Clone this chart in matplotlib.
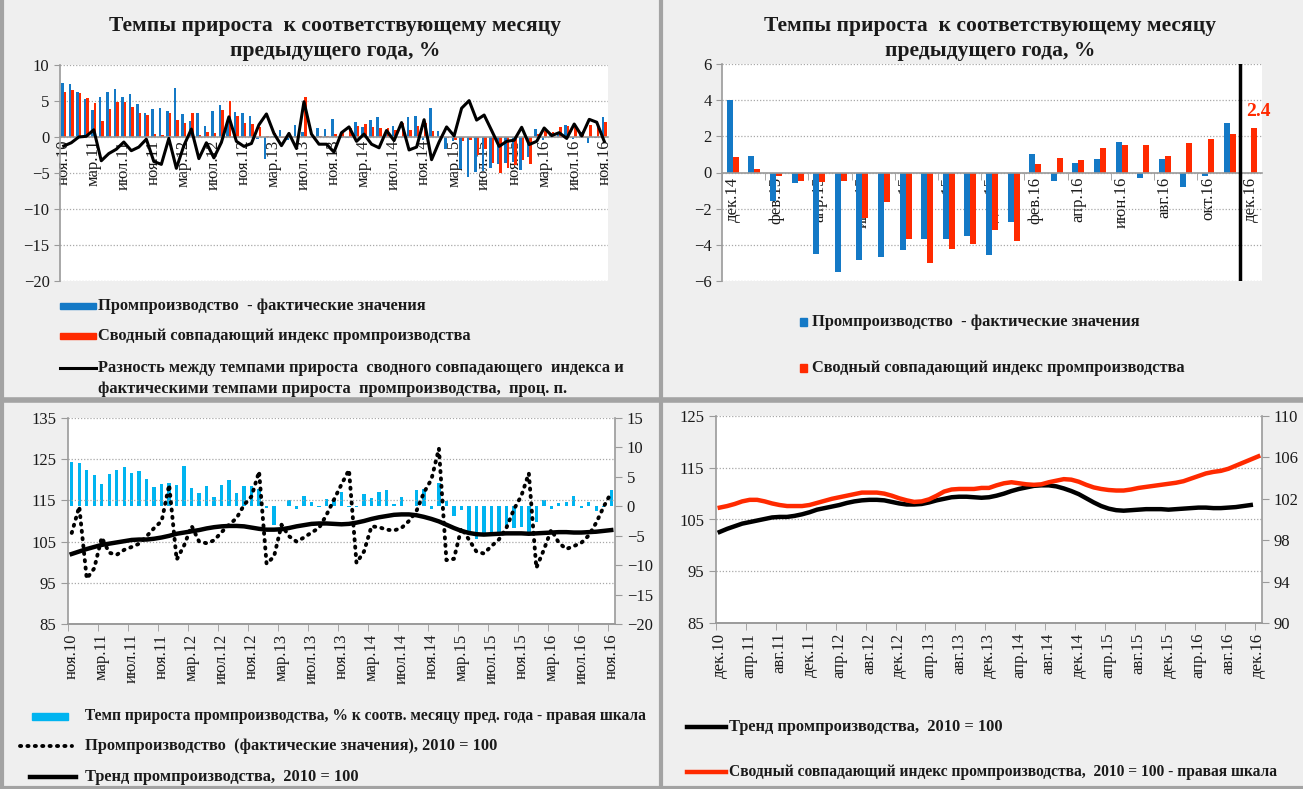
import matplotlib
matplotlib.use('Agg')
import matplotlib.pyplot as plt
import numpy as np
from matplotlib.lines import Line2D
from matplotlib.patches import Rectangle

plt.rcParams['font.family'] = ['Liberation Serif', 'DejaVu Serif']

# ---- data (monthly, ноя.10 .. ноя.16 / дек.16) ----
# IP growth, % y/y (actual)  ноя.10 .. ноя.16
ip_yoy = [7.45, 7.3, 6.2, 5.3, 3.75, 5.5, 6.2, 6.6, 5.6, 6.0, 4.65, 3.35, 3.85, 4.0, 3.55, 6.8,
          3.15, 2.2, 3.4, 1.5, 3.6, 4.5, 2.2, 3.5, 3.4, 2.9, -0.3, -3.1, 0.1, 1.0, -0.4, 1.7,
          0.7, -0.1, 1.2, 1.1, 2.5, -0.1, -0.2, 2.1, 1.4, 2.4, 2.8, 0.4, 1.5, 0.0, 2.8, 2.9,
          -0.4, 4.0, 0.9, -1.6, -0.6, -4.5, -5.5, -4.85, -4.7, -4.3, -3.7, -3.65, -3.5, -4.55,
          -2.75, 1.05, -0.45, 0.5, 0.75, 1.7, -0.3, 0.75, -0.8, -0.2, 2.75]
# composite coincident index growth, % y/y  ноя.10 .. дек.16
cci_yoy = [6.2, 6.5, 6.15, 5.4, 4.7, 2.2, 3.9, 4.9, 4.9, 4.1, 3.3, 3.0, 0.4, 0.3, 3.3, 2.4,
           2.0, 3.3, 0.3, 0.7, 0.6, 3.7, 5.0, 2.9, 2.0, 1.85, 1.4, 0.1, 0.6, -0.2, 0.1, 0.1,
           5.6, 0.3, 0.2, 0.1, 0.4, 0.5, 1.2, 1.5, 1.8, 1.4, 1.3, 1.3, 1.0, 2.0, 1.0, 1.5,
           2.0, 0.85, 0.2, -0.2, -0.45, -0.5, -0.45, -2.5, -1.65, -3.65, -5.0, -4.25, -3.95, -3.2,
           -3.8, 0.45, 0.8, 0.7, 1.35, 1.5, 1.5, 0.9, 1.65, 1.85, 2.15, 2.44]
# difference, p.p.  ноя.10 .. ноя.16
diff_pp = [-1.25, -0.8, 0.0, 0.1, 1.0, -3.3, -2.3, -1.7, -0.7, -1.9, -1.4, -0.3, -3.4, -3.8, -0.2, -4.35,
           -1.2, 1.1, -3.0, -0.8, -2.9, -0.75, 2.8, -0.6, -1.3, -0.9, 1.7, 3.2, 0.5, -1.2, 0.5, -1.6,
           4.9, 0.4, -1.0, -1.0, -2.1, 0.6, 1.4, -0.6, 0.4, -1.0, -1.5, 0.9, -0.5, 2.0, -1.8, -1.4,
           2.4, -3.15, -0.7, 1.4, 0.15, 4.0, 5.05, 2.35, 3.05, 0.9, -1.3, -0.6, -0.45, 1.35,
           -1.05, -0.6, 1.25, 0.2, 0.6, -0.2, 1.8, 0.15, 2.45, 2.05, -0.6]
# IP index, 2010 = 100 (actual)  ноя.10 .. ноя.16
ip_index = [107.1, 113.5, 96.0, 98.5, 106.0, 102.3, 101.8, 103.0, 103.7, 104.5, 106.3, 108.3, 110.0, 118.8,
            100.6, 104.1, 108.8, 105.0, 104.6, 105.3, 107.3, 109.1, 110.7, 113.9, 116.0, 122.0, 99.6,
            101.4, 109.1, 106.3, 105.0, 106.0, 107.2, 108.3, 111.5, 115.2, 118.9, 122.4, 99.8, 102.6,
            108.7, 108.5, 107.9, 107.7, 108.3, 110.0, 112.4, 116.9, 120.1, 127.6, 100.5, 100.8, 108.3,
            105.5, 102.6, 102.1, 103.9, 105.5, 108.3, 112.8, 116.1, 121.6, 98.6, 103.0, 107.9, 104.7,
            103.2, 103.9, 104.7, 106.5, 109.6, 113.5, 116.9]
# IP trend, 2010 = 100  ноя.10 .. ноя.16
ip_trend = [102.0, 102.6, 103.2, 103.7, 104.2, 104.5, 104.8, 105.1, 105.4, 105.5, 105.5, 105.7, 106.0,
            106.4, 106.9, 107.2, 107.5, 107.8, 108.2, 108.5, 108.7, 108.8, 108.8, 108.7, 108.4, 108.1,
            107.9, 107.9, 108.0, 108.3, 108.7, 109.0, 109.3, 109.4, 109.4, 109.3, 109.2, 109.3, 109.6,
            110.0, 110.5, 110.9, 111.2, 111.5, 111.6, 111.6, 111.4, 111.0, 110.5, 109.9, 109.1, 108.3,
            107.6, 107.1, 106.8, 106.7, 106.8, 106.9, 107.0, 107.0, 107.0, 106.9, 107.0, 107.1, 107.2,
            107.3, 107.3, 107.2, 107.2, 107.3, 107.4, 107.6, 107.8]
# composite coincident index, 2010 = 100  дек.10 .. дек.16
cci_index = [101.15, 101.3, 101.5, 101.75, 101.9, 101.9, 101.75, 101.55, 101.4, 101.3, 101.3, 101.3,
             101.4, 101.6, 101.8, 102.0, 102.15, 102.3, 102.45, 102.6, 102.6, 102.6, 102.5, 102.3,
             102.05, 101.85, 101.7, 101.75, 101.95, 102.3, 102.7, 102.9, 102.95, 102.95, 102.95, 103.05,
             103.05, 103.3, 103.5, 103.6, 103.5, 103.4, 103.35, 103.4, 103.6, 103.75, 103.9, 103.85,
             103.65, 103.35, 103.1, 102.95, 102.85, 102.8, 102.8, 102.9, 103.05, 103.15, 103.25, 103.35,
             103.45, 103.55, 103.7, 103.95, 104.2, 104.45, 104.6, 104.7, 104.9, 105.2, 105.5, 105.8, 106.1]

labels_nov = ['ноя.10', 'мар.11', 'июл.11', 'ноя.11', 'мар.12', 'июл.12', 'ноя.12', 'мар.13', 'июл.13',
              'ноя.13', 'мар.14', 'июл.14', 'ноя.14', 'мар.15', 'июл.15', 'ноя.15', 'мар.16', 'июл.16', 'ноя.16']
labels_dec2 = ['дек.14', 'фев.15', 'апр.15', 'июн.15', 'авг.15', 'окт.15', 'дек.15', 'фев.16', 'апр.16',
               'июн.16', 'авг.16', 'окт.16', 'дек.16']
labels_dec4 = ['дек.10', 'апр.11', 'авг.11', 'дек.11', 'апр.12', 'авг.12', 'дек.12', 'апр.13', 'авг.13',
               'дек.13', 'апр.14', 'авг.14', 'дек.14', 'апр.15', 'авг.15', 'дек.15', 'апр.16', 'авг.16', 'дек.16']

BLUE = '#1479c6'
RED = '#ff2a00'
CYAN = '#00b4f0'
GRIDC = '#a8a8a8'
AXC = '#9a9a9a'
TXT = '#1a1a1a'
TICK_FS = 12
LEG_FS = 11.8
TITLE_FS = 15.5
DOT = (0, (0.3, 1.6))

W, H = 1303, 789
fig = plt.figure(figsize=(W / 100, H / 100), dpi=100, facecolor='#efefef')


def axes_px(x0, y0, x1, y1):
    return fig.add_axes([x0 / W, 1 - y1 / H, (x1 - x0) / W, (y1 - y0) / H])


def fline(xs, ys, **kw):
    fig.add_artist(Line2D([x / W for x in xs], [1 - y / H for y in ys], **kw))


def ftext(x, y, s, fs=LEG_FS, **kw):
    fig.text(x / W, 1 - y / H, s, va='center', fontsize=fs, fontweight='bold', color=TXT, **kw)


def fpatch(x0, x1, y, h, color):
    fig.add_artist(Rectangle((x0 / W, 1 - (y + h / 2) / H), (x1 - x0) / W, h / H, color=color))


def style(ax, left=True, right=False, grid=True):
    for s in ['top', 'right', 'left', 'bottom']:
        ax.spines[s].set_visible(False)
    ax.spines['left'].set_visible(left)
    ax.spines['right'].set_visible(right)
    ax.spines['bottom'].set_visible(True)
    for s in ax.spines.values():
        s.set_color(AXC)
        s.set_linewidth(1.2)
    ax.tick_params(colors=AXC, labelcolor=TXT, labelsize=TICK_FS)
    if grid:
        ax.yaxis.grid(True, color=GRIDC, linestyle=(0, (1, 1.5)), linewidth=0.9)
    ax.set_axisbelow(True)


# panel frames
fline([661, 661], [0, H], color='#a3a3a3', lw=3)
fline([0, W], [400, 400], color='#a3a3a3', lw=4)
fline([1.5, 1.5], [0, H], color='#a3a3a3', lw=3)
fline([0, W], [787.5, 787.5], color='#a3a3a3', lw=3)

# ---------- panel 1 ----------
ax1 = axes_px(60, 65, 608, 281)
ax1.set_facecolor('white')
n1 = len(ip_yoy)
x1 = np.arange(n1)
ax1.bar(x1 - 0.17, ip_yoy, width=0.34, color=BLUE, zorder=2)
ax1.bar(x1 + 0.17, cci_yoy[:n1], width=0.34, color=RED, zorder=2)
ax1.plot(x1, diff_pp, color='black', lw=2.2, zorder=3)
ax1.set_xlim(-0.5, n1 - 0.5)
ax1.set_ylim(-20, 10)
ax1.set_yticks(range(-20, 11, 5))
style(ax1)
ax1.spines['bottom'].set_position(('data', 0))
ax1.set_xticks(np.arange(0, n1, 4))
ax1.set_xticklabels(labels_nov, rotation=90, va='top')
ax1.tick_params(axis='x', length=0, pad=2)
ax1.tick_params(axis='y', length=4)
ftext(335, 26, 'Темпы прироста  к соответствующему месяцу', fs=TITLE_FS, ha='center')
ftext(335, 51, 'предыдущего года, %', fs=TITLE_FS, ha='center')
fpatch(60, 96, 306, 6, BLUE)
ftext(98, 306, 'Промпроизводство  - фактические значения')
fpatch(60, 96, 336, 6, RED)
ftext(98, 336, 'Сводный совпадающий индекс промпроизводства')
fline([60, 96], [368, 368], color='black', lw=2.2)
ftext(98, 368, 'Разность между темпами прироста  сводного совпадающего  индекса и')
ftext(98, 389, 'фактическими темпами прироста  промпроизводства,  проц. п.')

# ---------- panel 2 ----------
ax2 = axes_px(722, 64, 1262, 281)
ax2.set_facecolor('white')
start2 = 49
b2 = ip_yoy[start2:]
r2 = cci_yoy[start2:]
ax2.bar(np.arange(len(b2)) - 0.14, b2, width=0.28, color=BLUE, zorder=2)
ax2.bar(np.arange(len(r2)) + 0.14, r2, width=0.28, color=RED, zorder=2)
ax2.set_xlim(-0.5, len(r2) - 0.5)
ax2.set_ylim(-6, 6)
ax2.set_yticks(range(-6, 7, 2))
style(ax2)
ax2.spines['bottom'].set_position(('data', 0))
ax2.set_xticks(np.arange(0, len(r2), 2))
ax2.set_xticklabels(labels_dec2, rotation=90, va='top')
ax2.set_xticks(np.arange(-0.5, len(r2), 2), minor=True)
ax2.tick_params(axis='x', which='major', length=0, pad=3)
ax2.tick_params(axis='x', which='minor', length=5, color=AXC)
ax2.tick_params(axis='y', length=4)
ax2.axvline(len(b2) - 0.5, color='black', lw=2.5, zorder=4)
ax2.text(len(r2) - 1 + 0.35, r2[-1] + 0.95, f'{r2[-1]:.1f}', color=RED, fontsize=14,
         fontweight='bold', ha='center', va='center')
ftext(990, 26, 'Темпы прироста  к соответствующему месяцу', fs=TITLE_FS, ha='center')
ftext(990, 51, 'предыдущего года, %', fs=TITLE_FS, ha='center')
fpatch(800, 807, 322, 8, BLUE)
ftext(812, 322, 'Промпроизводство  - фактические значения')
fpatch(800, 807, 368, 8, RED)
ftext(812, 368, 'Сводный совпадающий индекс промпроизводства')

# ---------- panel 3 ----------
ax3 = axes_px(68, 418, 615, 624)
n3 = len(ip_index)
x3 = np.arange(n3)
ax3r = ax3.twinx()
ax3r.bar(x3, ip_yoy, width=0.45, color=CYAN)
ax3r.set_ylim(-20, 15)
ax3r.set_yticks(range(-20, 16, 5))
style(ax3r, left=False, right=True, grid=False)
ax3r.tick_params(axis='y', length=5)
ax3r.patch.set_visible(True)
ax3r.patch.set_facecolor('white')
ax3.set_zorder(ax3r.get_zorder() + 1)
ax3.patch.set_visible(False)
ax3.plot(x3, ip_index, color='black', lw=2.8, linestyle=DOT, dash_capstyle='round')
ax3.plot(x3, ip_trend, color='black', lw=3.2)
ax3.set_ylim(85, 135)
ax3.set_yticks(range(85, 136, 10))
style(ax3)
ax3.set_xlim(-0.5, n3 - 0.5)
ax3.set_xticks(np.arange(0, n3, 4))
ax3.set_xticklabels(labels_nov, rotation=90, va='top')
ax3.set_xticks(np.arange(-0.5, n3, 4), minor=True)
ax3.tick_params(axis='x', which='major', length=0, pad=7)
ax3.tick_params(axis='x', which='minor', length=5, color=AXC)
ax3.tick_params(axis='y', length=5)
fpatch(32, 68, 716, 7, CYAN)
ftext(85, 716, 'Темп прироста промпроизводства, % к соотв. месяцу пред. года - правая шкала', fs=11.2)
fline([20, 72], [746, 746], color='black', lw=2.8, linestyle=DOT, dash_capstyle='round')
ftext(85, 746, 'Промпроизводство  (фактические значения), 2010 = 100')
fline([30, 76], [777, 777], color='black', lw=3.2)
ftext(85, 777, 'Тренд промпроизводства,  2010 = 100')

# ---------- panel 4 ----------
ax4 = axes_px(716, 416, 1262, 623)
ax4.set_facecolor('white')
n4 = len(cci_index)
x4 = np.arange(n4)
ax4.plot(x4[:len(ip_trend) - 1], ip_trend[1:], color='black', lw=3.2)
ax4.set_ylim(85, 125)
ax4.set_yticks(range(85, 126, 10))
ax4.set_xlim(-0.5, n4 - 0.5)
style(ax4)
ax4.set_xticks(np.arange(0, n4, 4))
ax4.set_xticklabels(labels_dec4, rotation=90, va='top')
ax4.set_xticks(np.arange(-0.5, n4, 4), minor=True)
ax4.tick_params(axis='x', which='major', length=0, pad=7)
ax4.tick_params(axis='x', which='minor', length=5, color=AXC)
ax4.tick_params(axis='y', length=5)
ax4r = ax4.twinx()
ax4r.plot(x4, cci_index, color=RED, lw=3.2)
ax4r.set_ylim(90, 110)
ax4r.set_yticks(range(90, 111, 4))
style(ax4r, left=False, right=True, grid=False)
ax4r.tick_params(axis='y', length=5)
fline([687, 726], [727, 727], color='black', lw=3.2)
ftext(729, 727, 'Тренд промпроизводства,  2010 = 100')
fline([687, 726], [772, 772], color=RED, lw=3.2)
ftext(729, 772, 'Сводный совпадающий индекс промпроизводства,  2010 = 100 - правая шкала', fs=11.2)

fig.savefig('out.png', dpi=100, facecolor=fig.get_facecolor())
